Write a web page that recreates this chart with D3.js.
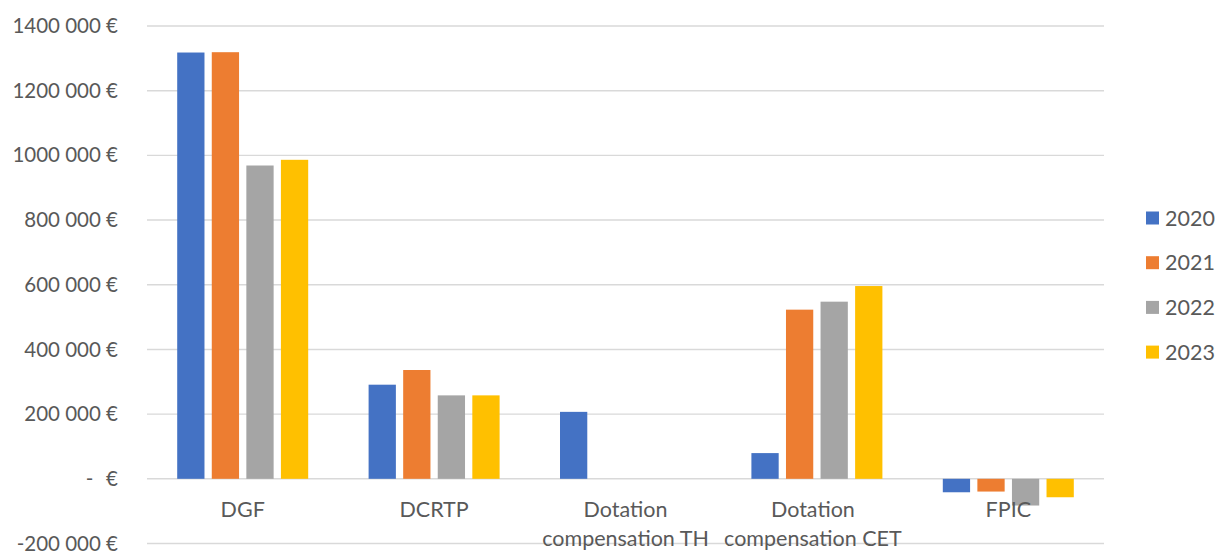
<!DOCTYPE html>
<html>
<head>
<meta charset="utf-8">
<script src="https://cdn.jsdelivr.net/npm/d3@7"></script>
<style>
  html, body { margin: 0; padding: 0; background: #fff; }
  svg { display: block; }
  text { font-family: Lato, "Open Sans", sans-serif; fill: #595959; }
</style>
</head>
<body>
<svg id="chart" width="1216" height="553"></svg>
<script>
// Categories (each label split into display lines)
const categories = ["DGF", "DCRTP", "Dotation compensation TH", "Dotation compensation CET", "FPIC"];
const categoryLines = [["DGF"], ["DCRTP"], ["Dotation", "compensation TH"], ["Dotation", "compensation CET"], ["FPIC"]];
const years = ["2020", "2021", "2022", "2023"];

// Amounts in euros, one array per year, in category order (null = no bar)
const values2020 = [1318000, 291000, 207000, 79500, -41600];
const values2021 = [1319000, 336400, null, 523000, -39400];
const values2022 = [968700, 258000, null, 547700, -82600];
const values2023 = [986300, 258000, null, 596000, -57000];

const yTicks = [-200000, 0, 200000, 400000, 600000, 800000, 1000000, 1200000, 1400000];
const colors = ["#4472c4", "#ed7d31", "#a5a5a5", "#ffc000"];

const seriesValues = [values2020, values2021, values2022, values2023];

const svg = d3.select("#chart");
const margin = { left: 147, right: 112, top: 26, bottom: 9 };
const width = 1216, height = 553;

const y = d3.scaleLinear()
  .domain([-200000, 1400000])
  .range([height - margin.bottom - 0.5, margin.top]);

const x0 = d3.scaleBand()
  .domain(categories)
  .range([margin.left, width - margin.right])
  .paddingInner(0.3156)
  .paddingOuter(0.1578);

const x1 = d3.scaleBand()
  .domain(years)
  .range([0, x0.bandwidth()])
  .paddingInner(0.211);

// Accounting-style euro format: "1400 000 €", zero shown as "-   €"
function euro(v) {
  if (v === 0) return "-\u2002\u2009€";
  const neg = v < 0;
  const s = String(Math.abs(v));
  const out = s.length > 3 ? s.slice(0, s.length - 3) + " " + s.slice(-3) : s;
  return (neg ? "-" : "") + out + " €";
}

// Gridlines
svg.append("g")
  .selectAll("line")
  .data(yTicks)
  .join("line")
  .attr("x1", margin.left)
  .attr("x2", width - margin.right)
  .attr("y1", d => y(d))
  .attr("y2", d => y(d))
  .attr("stroke", "#d9d9d9")
  .attr("stroke-width", 1.4);

// Y axis labels
const yAxis = d3.axisLeft(y).tickValues(yTicks).tickFormat(euro).tickSize(0).tickPadding(29);
const yg = svg.append("g").attr("transform", `translate(${margin.left},0)`).call(yAxis);
yg.select(".domain").remove();
yg.selectAll("text")
  .attr("font-size", 20.5)
  .attr("font-family", "Lato, sans-serif")
  .attr("fill", "#595959")
  .style("white-space", "pre");

// Bars
years.forEach((yr, si) => {
  svg.append("g")
    .attr("fill", colors[si])
    .selectAll("rect")
    .data(categories.map((c, i) => ({ c, v: seriesValues[si][i] })).filter(d => d.v !== null))
    .join("rect")
    .attr("x", d => x0(d.c) + x1(yr))
    .attr("width", x1.bandwidth())
    .attr("y", d => y(Math.max(0, d.v)))
    .attr("height", d => Math.abs(y(d.v) - y(0)));
});

// Category labels
const xl = svg.append("g");
categories.forEach((c, i) => {
  const cx = x0(c) + x0.bandwidth() / 2 + (i === 3 ? -4 : 0);
  const t = xl.append("text")
    .attr("text-anchor", "middle")
    .attr("font-size", 21.5)
    .attr("x", cx)
    .attr("y", 517);
  categoryLines[i].forEach((line, li) => {
    t.append("tspan")
      .attr("x", cx)
      .attr("dy", li === 0 ? 0 : 29)
      .text(line);
  });
});

// Legend
const legend = svg.append("g").attr("transform", "translate(1146,218)");
years.forEach((yr, i) => {
  const g = legend.append("g").attr("transform", `translate(0,${i * 44.7})`);
  g.append("rect").attr("x", 0).attr("y", -6.5).attr("width", 13).attr("height", 13).attr("fill", colors[i]);
  g.append("text").attr("x", 19).attr("y", 0).attr("dy", "0.35em").attr("font-size", 21.5).text(yr);
});
</script>
</body>
</html>
